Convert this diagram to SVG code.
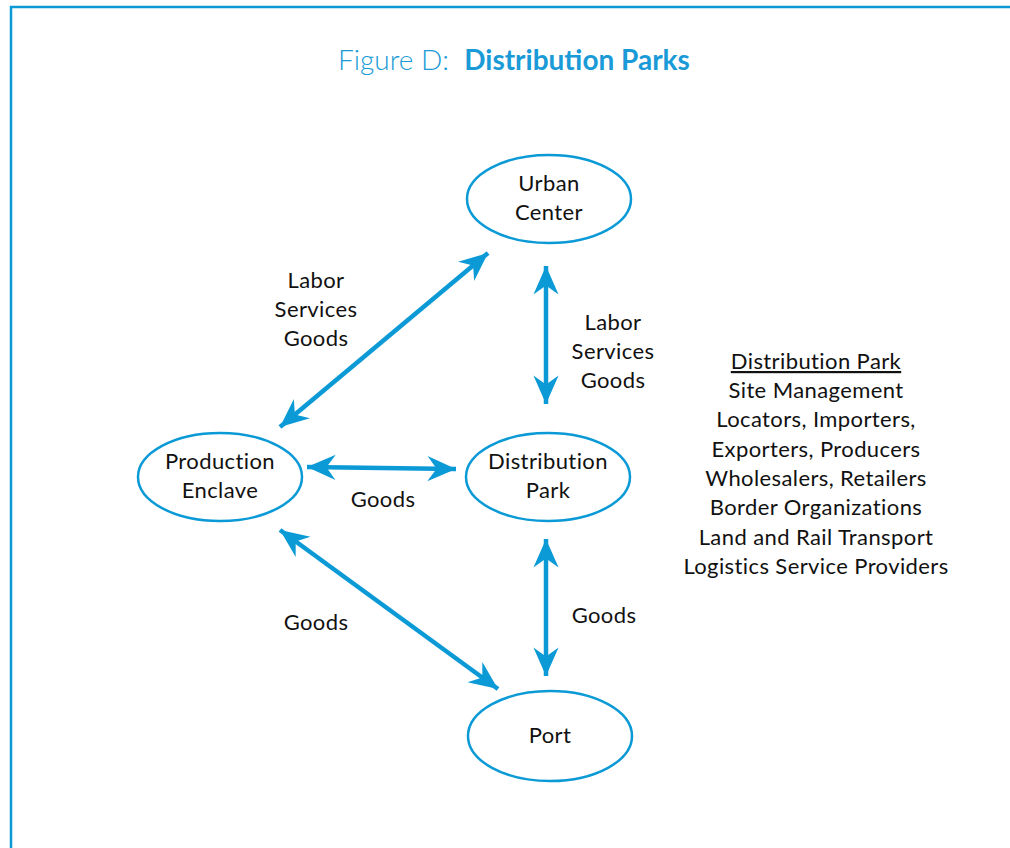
<svg xmlns="http://www.w3.org/2000/svg" width="1010" height="848" viewBox="0 0 1010 848">
<style>
.node{fill:#fff;stroke:#0b9ad6;stroke-width:2.5}
.lbl{font-family:Lato,"Open Sans","DejaVu Sans",sans-serif;font-size:22px;letter-spacing:0.4px;fill:#111;text-anchor:middle}
.con{stroke:#0b9ad6;stroke-width:4.5;fill:none;marker-start:url(#ah);marker-end:url(#ah)}
.title{font-family:Lato,"Open Sans",sans-serif;font-size:28px;fill:#1a9ad6;text-anchor:middle;white-space:pre}
</style>
<defs>
<marker id="ah" markerUnits="userSpaceOnUse" markerWidth="32" markerHeight="32" viewBox="-26 -13 28 26" refX="0" refY="0" orient="auto-start-reverse">
<path d="M0,0 L-25,-11 L-17,0 L-25,11 Z" fill="#0b9ad6"/>
</marker>
</defs>
<rect width="1010" height="848" fill="#fff"/>
<path d="M11,848 V7 H1010" fill="none" stroke="#0b9ad6" stroke-width="2.5"/>
<text class="title" x="514" y="70" xml:space="preserve"><tspan font-weight="300">Figure D:  </tspan><tspan font-weight="700">Distribution Parks</tspan></text>
<g id="connectors">
<line class="con" x1="280" y1="427" x2="488" y2="253"/>
<line class="con" x1="546" y1="266" x2="546" y2="404"/>
<line class="con" x1="307" y1="467" x2="456" y2="469"/>
<line class="con" x1="280" y1="530" x2="498" y2="689"/>
<line class="con" x1="546" y1="539" x2="546" y2="676"/>
<text class="lbl" x="316" y="288">Labor</text>
<text class="lbl" x="316" y="317">Services</text>
<text class="lbl" x="316" y="346">Goods</text>
<text class="lbl" x="613" y="330">Labor</text>
<text class="lbl" x="613" y="359">Services</text>
<text class="lbl" x="613" y="388">Goods</text>
<text class="lbl" x="383" y="507">Goods</text>
<text class="lbl" x="316" y="630">Goods</text>
<text class="lbl" x="604" y="623">Goods</text>
</g>
<g id="urban-center">
<ellipse class="node" cx="549" cy="199" rx="82" ry="44"/>
<text class="lbl" x="549" y="191">Urban</text>
<text class="lbl" x="549" y="220">Center</text>
</g>
<g id="production-enclave">
<ellipse class="node" cx="220" cy="477" rx="82" ry="44"/>
<text class="lbl" x="220" y="469">Production</text>
<text class="lbl" x="220" y="498">Enclave</text>
</g>
<g id="distribution-park">
<ellipse class="node" cx="548" cy="477" rx="82" ry="44"/>
<text class="lbl" x="548" y="469">Distribution</text>
<text class="lbl" x="548" y="498">Park</text>
</g>
<g id="port">
<ellipse class="node" cx="550" cy="736" rx="82" ry="45"/>
<text class="lbl" x="550" y="743">Port</text>
</g>
<g id="distribution-park-legend">
<text class="lbl" x="816" y="369" text-decoration="underline">Distribution Park</text>
<text class="lbl" x="816" y="398">Site Management</text>
<text class="lbl" x="816" y="427">Locators, Importers,</text>
<text class="lbl" x="816" y="457">Exporters, Producers</text>
<text class="lbl" x="816" y="486">Wholesalers, Retailers</text>
<text class="lbl" x="816" y="515">Border Organizations</text>
<text class="lbl" x="816" y="545">Land and Rail Transport</text>
<text class="lbl" x="816" y="574">Logistics Service Providers</text>
</g>
</svg>
